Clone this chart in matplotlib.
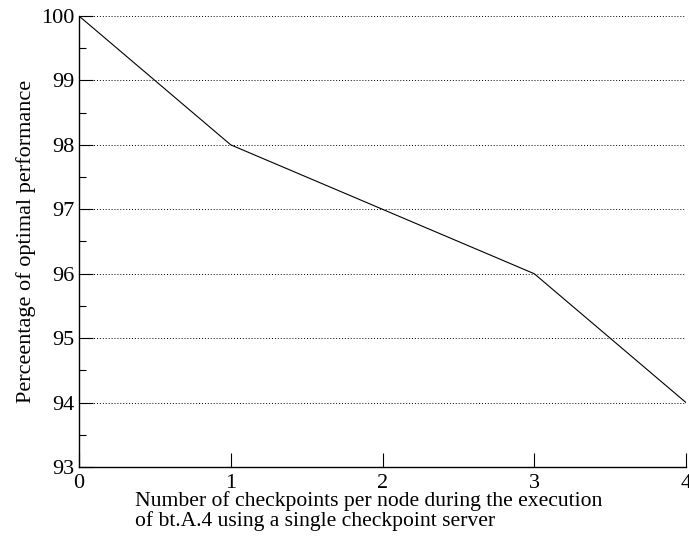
import matplotlib
matplotlib.use("Agg")
import matplotlib.pyplot as plt
from matplotlib.ticker import MultipleLocator

checkpoints = [0, 1, 2, 3, 4]
performance = [100, 98, 97, 96, 94]

plt.rcParams["font.family"] = ["Liberation Serif", "DejaVu Serif"]
plt.rcParams["font.size"] = 16

fig = plt.figure(figsize=(6.89, 5.38), dpi=100)
ax = fig.add_axes([79 / 689, 71 / 538, 607 / 689, 451 / 538])

ax.plot(checkpoints, performance, color="black", linewidth=0.8)

ax.set_xlim(0, 4)
ax.set_ylim(93, 100)
ax.xaxis.set_major_locator(MultipleLocator(1))
ax.yaxis.set_major_locator(MultipleLocator(1))
ax.yaxis.set_minor_locator(MultipleLocator(0.5))
ax.tick_params(axis="both", which="major", direction="in", length=10, width=0.8, pad=3)
ax.tick_params(axis="x", which="major", pad=5)
ax.tick_params(axis="y", which="minor", direction="in", length=5, width=0.8)
ax.tick_params(top=False, right=False)

ax.grid(axis="y", which="major", linestyle=(0, (1, 2)), color="black", linewidth=0.7)
ax.spines["top"].set_visible(False)
ax.spines["right"].set_visible(False)
ax.spines["left"].set_linewidth(1.0)
ax.spines["bottom"].set_linewidth(1.0)

ax.set_ylabel("Perceentage of optimal performance", labelpad=4)
ax.set_xlabel("Number of checkpoints per node during the execution\nof bt.A.4 using a single checkpoint server",
              ha="left", x=(135 - 79) / 607, linespacing=0.95, labelpad=-1, fontsize=15.6)

fig.savefig("out.png", dpi=100)
